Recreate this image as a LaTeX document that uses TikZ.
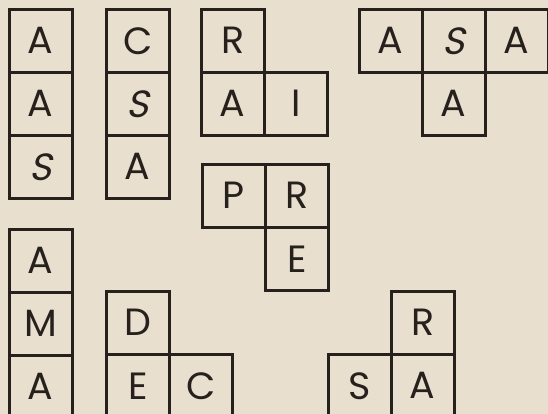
\documentclass[tikz,border=0pt]{standalone}
\usepackage{fontspec}
\setmainfont{Poppins}
\newfontfamily\slantfont{Poppins}[FakeSlant=0.22]
\usetikzlibrary{positioning}
\definecolor{paper}{RGB}{233,223,206}
\definecolor{ink}{RGB}{38,33,29}
\newcommand\sS{{\slantfont S}}

\begin{document}
\begin{tikzpicture}[x=0.25mm,y=-0.25mm,
  tile/.style={draw=ink,line width=1.8pt,minimum size=15.75mm,inner sep=0pt,
    anchor=north west,text=ink,font=\fontsize{27}{29}\selectfont}]
\fill[paper] (0,0) rectangle (548,414);
\useasboundingbox (0,0) rectangle (548,414);
\begin{scope}
\clip (0,0) rectangle (548,414);
\foreach \n/\x/\y/\l in {aa/8/8/A,ab/8/71/A,ac/8/134/\sS,
  ca/105/8/C,cb/105/71/\sS,cc/105/134/A,
  ra/200/8/R,rb/200/71/A,rc/263/71/I,
  sa/358/8/A,sb/421/8/\sS,sc/484/8/A,sd/421/71/A,
  pa/201/163/P,pb/264/163/R,pc/264/226/E,
  ma/8/228/A,mb/8/291/M,mc/8/354/A,
  da/105/290/D,db/105/353/E,dc/168/353/C,
  ta/390/290/R,tb/327/353/S,tc/390/353/A}
  \node[tile] (\n) at (\x,\y) {\l};
\end{scope}
\end{tikzpicture}
\end{document}
